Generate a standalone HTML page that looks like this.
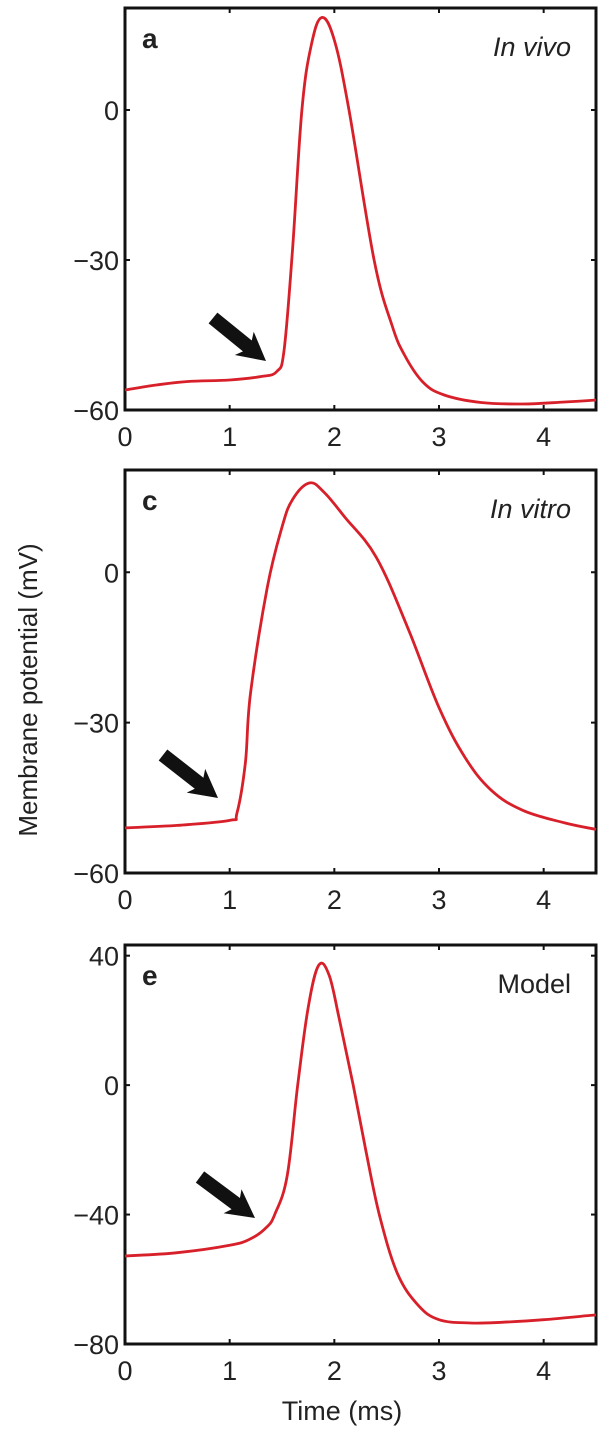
<!DOCTYPE html>
<html><head><meta charset="utf-8"><style>
html,body{margin:0;padding:0;background:#fff;width:616px;height:1432px;overflow:hidden}
svg{display:block}
text{font-family:"Liberation Sans",sans-serif;fill:#222}
</style></head><body>
<svg id="fig" width="616" height="1432"></svg>
<script>
const xTicks=[0,1,2,3,4];
const aTime=[0,0.3,0.6,1,1.3,1.45,1.52,1.6,1.69,1.78,1.88,2.0,2.14,2.38,2.55,2.67,2.85,3.05,3.4,3.8,4.2,4.5];
const aVolt=[-56,-55,-54.3,-54,-53.3,-52.3,-48,-28,0,13,18.5,14,0,-30,-43,-49,-54.5,-57,-58.5,-58.8,-58.4,-58];
const aTicks=[0,-30,-60];
const cTime=[0,0.5,1,1.07,1.15,1.2,1.36,1.5,1.6,1.76,1.9,2.1,2.4,2.7,3.0,3.25,3.5,3.8,4.2,4.5];
const cVolt=[-51,-50.5,-49.5,-48,-38,-24,-3,9,14.5,17.8,16,11,3,-11,-27,-37,-43.5,-47.5,-50,-51.3];
const cTicks=[0,-30,-60];
const eTime=[0,0.5,1,1.2,1.35,1.43,1.55,1.65,1.75,1.85,1.95,2.05,2.18,2.3,2.43,2.6,2.8,3.0,3.3,3.6,4,4.5];
const eVolt=[-52.8,-51.8,-49.5,-47.5,-44,-40,-28,0,24,37,34,20,0,-20,-40,-58,-68,-72.5,-73.5,-73.3,-72.5,-71];
const eTicks=[40,0,-40,-80];
const NS="http://www.w3.org/2000/svg";
const svg=document.getElementById('fig');
function mk(tag,attrs,parent){const e=document.createElementNS(NS,tag);for(const k in attrs)e.setAttribute(k,attrs[k]);(parent||svg).appendChild(e);return e;}
const L=125,R=596;
function smooth(pts){
  let d='M'+pts[0][0].toFixed(1)+' '+pts[0][1].toFixed(1);
  for(let i=0;i<pts.length-1;i++){
    const p0=pts[Math.max(0,i-1)],p1=pts[i],p2=pts[i+1],p3=pts[Math.min(pts.length-1,i+2)];
    const t=0.18;
    const c1=[p1[0]+(p2[0]-p0[0])*t,p1[1]+(p2[1]-p0[1])*t];
    const c2=[p2[0]-(p3[0]-p1[0])*t,p2[1]-(p3[1]-p1[1])*t];
    d+=` C${c1[0].toFixed(1)} ${c1[1].toFixed(1)} ${c2[0].toFixed(1)} ${c2[1].toFixed(1)} ${p2[0].toFixed(1)} ${p2[1].toFixed(1)}`;
  }
  return d;
}
function panel(id,top,bottom,ymin,ymax,times,volts,yt,letter,label,italic,arrow){
  const g=mk('g',{});
  
  
  const xs=t=>L+(R-L)*t/4.5;
  const ys=v=>bottom-(bottom-top)*(v-ymin)/(ymax-ymin);
  const box=mk('rect',{x:L,y:top,width:R-L,height:bottom-top,fill:'none',stroke:'#111','stroke-width':3},g);
  
  
  xTicks.forEach(t=>{
    const x=xs(t);
    mk('line',{x1:x,y1:bottom,x2:x,y2:bottom-5,stroke:'#111','stroke-width':2},g);
    mk('line',{x1:x,y1:top,x2:x,y2:top+5,stroke:'#111','stroke-width':2},g);
    const tx=mk('text',{x:x,y:bottom+36,'font-size':27,'text-anchor':'middle'},g);
    tx.textContent=t;
    
    
  });
  yt.forEach(v=>{
    const y=ys(v);
    mk('line',{x1:L,y1:y,x2:L+5,y2:y,stroke:'#111','stroke-width':2},g);
    mk('line',{x1:R,y1:y,x2:R-5,y2:y,stroke:'#111','stroke-width':2},g);
    const tx=mk('text',{x:L-6,y:y+10,'font-size':27,'text-anchor':'end'},g);
    tx.textContent=(v<0?'\u2212'+(-v):v);
    
    
  });
  const pts=times.map((t,i)=>[xs(t),ys(volts[i])]);
  const p=mk('path',{d:smooth(pts),fill:'none',stroke:'#d8202a','stroke-width':2.8,'stroke-linejoin':'round'},g);
  
  
  const lt=mk('text',{x:142,y:top+40,'font-size':28,'font-weight':'bold'},g);
  lt.textContent=letter;
  
  
  const lb=mk('text',{x:571,y:top+48,'font-size':27,'text-anchor':'end','font-style':italic?'italic':'normal'},g);
  lb.textContent=label;
  
  
  const [x1,y1,x2,y2]=arrow;
  const ang=Math.atan2(y2-y1,x2-x1)*180/Math.PI;
  const len=Math.hypot(x2-x1,y2-y1);
  const ar=mk('polygon',{points:`0,-7 ${len-24},-7 ${len-28},-15 ${len},0 ${len-28},15 ${len-24},7 0,7`,fill:'#111',transform:`translate(${x1},${y1}) rotate(${ang})`},g);
  
  
}
panel('a',8,410,-60,20.4,aTime,aVolt,aTicks,'a','In vivo',true,[213,318,266,361]);
panel('c',470,873,-60,20.4,cTime,cVolt,cTicks,'c','In vitro',true,[163,755,218,798]);
panel('e',945,1344,-80,43.3,eTime,eVolt,eTicks,'e','Model',false,[200,1177,255,1218]);
const yt=mk('text',{x:0,y:0,'font-size':26,'text-anchor':'middle',transform:'translate(37,690) rotate(-90)'});
yt.textContent='Membrane potential (mV)';


const xt=mk('text',{x:342,y:1420,'font-size':27,'text-anchor':'middle'});
xt.textContent='Time (ms)';


</script>
</body></html>
